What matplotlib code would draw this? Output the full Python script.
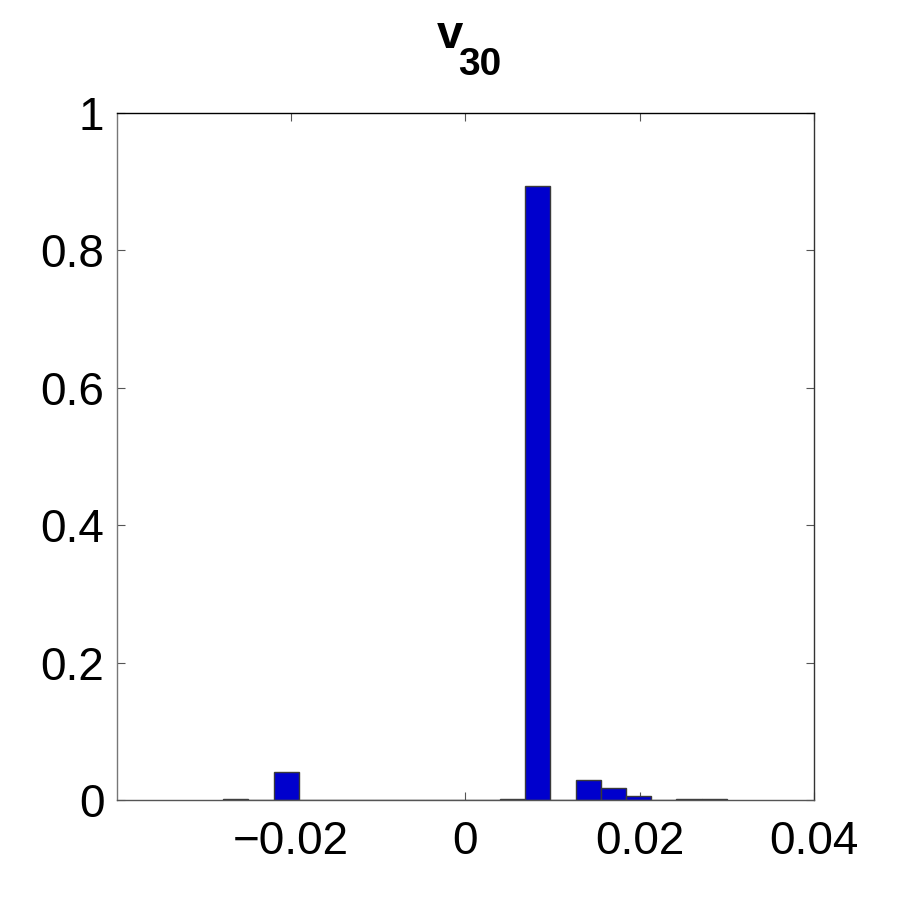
import matplotlib.pyplot as plt
import matplotlib as mpl

mpl.rcParams['font.family'] = ['Liberation Sans', 'DejaVu Sans']

# histogram bins (centres) and relative frequencies
bin_centers = [-0.02637, -0.02348, -0.02059, -0.01770, -0.01481, -0.01192,
               -0.00903, -0.00614, -0.00325, -0.00036, 0.00253, 0.00542,
               0.00831, 0.01120, 0.01409, 0.01698, 0.01987, 0.02276,
               0.02565, 0.02854]
freqs = [0.0015, 0.0, 0.041, 0.0005, 0.0, 0.0003,
         0.0, 0.0003, 0.0, 0.0005, 0.0, 0.0015,
         0.894, 0.0, 0.0287, 0.0169, 0.0055, 0.0,
         0.001, 0.001]
bin_width = 0.00289

xticks = [-0.02, 0, 0.02, 0.04]
xticklabels = ['\u22120.02', '0', '0.02', '0.04']
yticks = [0, 0.2, 0.4, 0.6, 0.8, 1]
yticklabels = ['0', '0.2', '0.4', '0.6', '0.8', '1']

fig = plt.figure(figsize=(9, 9), dpi=100)
ax = fig.add_axes([0.13, 0.111, 0.7744, 0.7634])

ax.bar(bin_centers, freqs, width=bin_width, color='#0000cd',
       edgecolor='#3a3a3a', linewidth=1.0, zorder=2)

ax.set_xlim(-0.04, 0.04)
ax.set_ylim(0, 1)
ax.set_xticks(xticks)
ax.set_xticklabels(xticklabels)
ax.set_yticks(yticks)
ax.set_yticklabels(yticklabels)

ax.tick_params(direction='in', length=6, width=0.8, top=True, right=True,
               labelsize=33, colors='#555555', labelcolor='black')
ax.tick_params(axis='x', pad=14)
ax.tick_params(axis='y', pad=9)
for s in ax.spines.values():
    s.set_linewidth(1.0)
ax.spines['left'].set_color('#777777')
ax.spines['bottom'].set_color('#555555')
ax.spines['right'].set_color('#333333')
ax.spines['top'].set_color('black')

# title v_30, drawn as two pieces so the subscript stays big like the original
fig.text(437 / 900, 1 - 48 / 900, 'v', fontsize=34, fontweight='bold',
         ha='left', va='baseline')
fig.text(458 / 900, 1 - 75 / 900, '30', fontsize=28, fontweight='bold',
         ha='left', va='baseline')

fig.savefig('out.png', dpi=100, facecolor='white')
